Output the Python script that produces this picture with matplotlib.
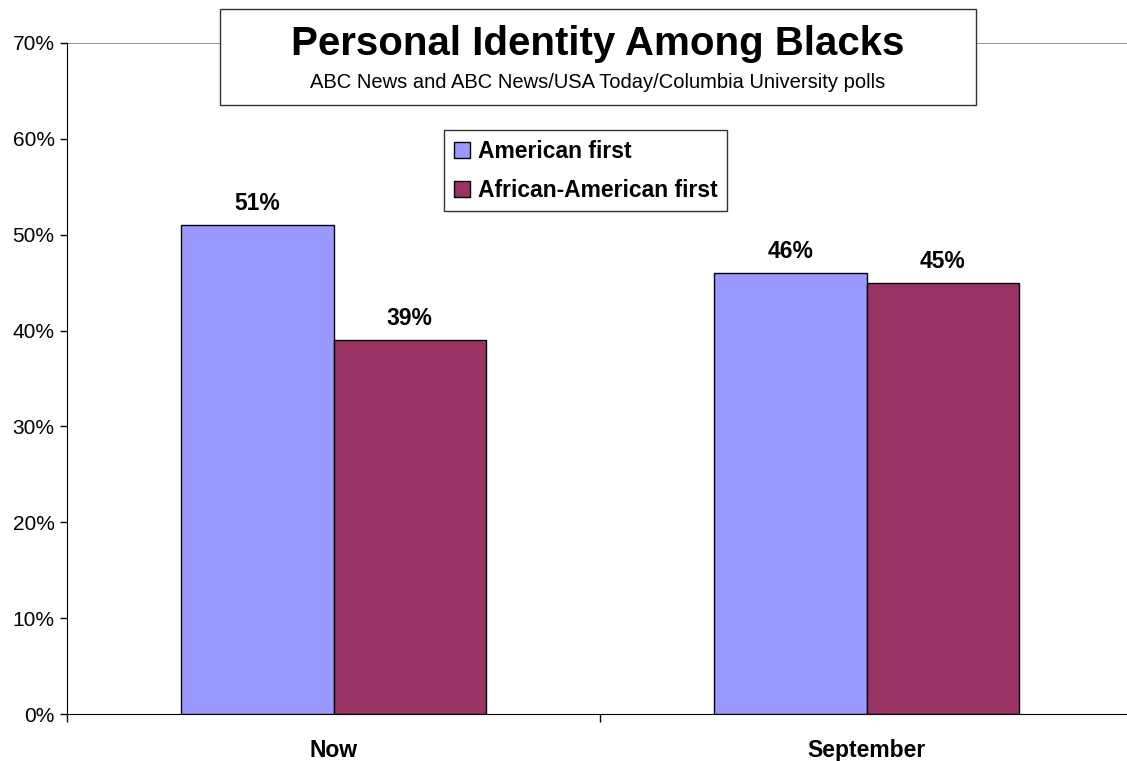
import numpy as np
import matplotlib
matplotlib.use('Agg')
import matplotlib.pyplot as plt
import matplotlib.ticker as ticker
from matplotlib.patches import Rectangle

plt.rcParams['font.family'] = ['Liberation Sans', 'DejaVu Sans']

categories = ['Now', 'September']
american_first = [51, 46]
african_american_first = [39, 45]
series_names = ['American first', 'African-American first']
colors = ['#9999FF', '#993366']

W, H = 1127, 761
fig = plt.figure(figsize=(W / 100, H / 100), dpi=100)

# axes: left at x=67, 0% at y=714, 70% at y=43, category width ~533 px
left = 67 / W
bottom = (H - 714) / H
top = (H - 43) / H
ax = fig.add_axes([left, bottom, 2 * 533 / W, top - bottom])

x = np.arange(len(categories)) + 0.5
bw = 0.286
ax.bar(x - bw / 2, american_first, bw, color=colors[0], edgecolor='black',
       linewidth=1, label=series_names[0], zorder=3)
ax.bar(x + bw / 2, african_american_first, bw, color=colors[1], edgecolor='black',
       linewidth=1, label=series_names[1], zorder=3)

for xi, v in zip(x - bw / 2, american_first):
    ax.annotate('%i%%' % v, (xi, v), xytext=(0, 10), textcoords='offset pixels',
                ha='center', va='bottom', fontsize=16.5, fontweight='bold')
for xi, v in zip(x + bw / 2, african_american_first):
    ax.annotate('%i%%' % v, (xi, v), xytext=(0, 10), textcoords='offset pixels',
                ha='center', va='bottom', fontsize=16.5, fontweight='bold')

ax.set_xlim(0, 2)
ax.set_ylim(0, 70)
ax.set_yticks(np.arange(0, 71, 10))
ax.yaxis.set_major_formatter(ticker.FormatStrFormatter('%i%%'))
ax.tick_params(axis='y', direction='out', length=5, width=1, labelsize=15, pad=4)

ax.set_xticks(x)
ax.set_xticklabels(categories, fontsize=16.5, fontweight='bold')
ax.set_xticks([0, 1, 2], minor=True)
ax.tick_params(axis='x', which='major', length=0, pad=18)
ax.tick_params(axis='x', which='minor', direction='out', length=6, width=1)

ax.spines['top'].set_visible(False)
ax.spines['right'].set_visible(False)
ax.axhline(70, color='#808080', linewidth=1.2, zorder=1)

leg = ax.legend(loc='upper left', bbox_to_anchor=((444 - 67) / (2 * 533), (714 - 130) / (714 - 43)),
                prop={'size': 16.5, 'weight': 'bold'}, frameon=True, fancybox=False,
                edgecolor='black', handlelength=0.7, handleheight=0.7, handletextpad=0.35,
                borderpad=0.42, labelspacing=0.7, borderaxespad=0)
leg.get_frame().set_linewidth(1)
for h in leg.legend_handles:
    h.set_edgecolor('black')

# title box
fig.patches.append(Rectangle((220 / W, (H - 105) / H), (976 - 220) / W, 96 / H,
                             transform=fig.transFigure, facecolor='white',
                             edgecolor='#333333', linewidth=1, zorder=5))
fig.text(598 / W, (H - 44) / H, 'Personal Identity Among Blacks', ha='center', va='center',
         fontsize=29, fontweight='bold', zorder=6)
fig.text(598 / W, (H - 82) / H, 'ABC News and ABC News/USA Today/Columbia University polls',
         ha='center', va='center', fontsize=14.5, zorder=6)

fig.savefig('out.png', dpi=100)
